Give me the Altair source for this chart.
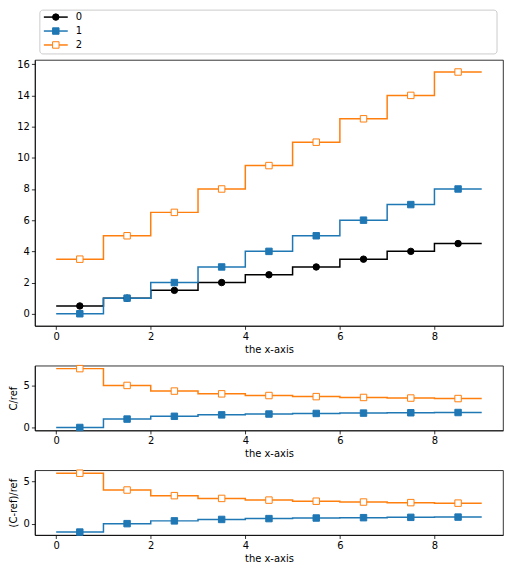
import altair as alt
import pandas as pd

# ---- data ----
names = ["0", "1", "2"]
edges = [0, 1, 2, 3, 4, 5, 6, 7, 8, 9]
centers = [0.5, 1.5, 2.5, 3.5, 4.5, 5.5, 6.5, 7.5, 8.5]

counts_0 = [0.5, 1.0, 1.5, 2.0, 2.5, 3.0, 3.5, 4.0, 4.5]
counts_1 = [0, 1, 2, 3, 4, 5, 6, 7, 8]
counts_2 = [3.5, 5.0, 6.5, 8.0, 9.5, 11.0, 12.5, 14.0, 15.5]

ratio_1 = [0.0, 1.0, 1.33, 1.5, 1.6, 1.67, 1.71, 1.75, 1.78]
ratio_2 = [7.0, 5.0, 4.33, 4.0, 3.8, 3.67, 3.57, 3.5, 3.44]

rel_1 = [-1.0, 0.0, 0.33, 0.5, 0.6, 0.67, 0.71, 0.75, 0.78]
rel_2 = [6.0, 4.0, 3.33, 3.0, 2.8, 2.67, 2.57, 2.5, 2.44]

x_ticks = [0, 2, 4, 6, 8]
top_y_ticks = [0, 2, 4, 6, 8, 10, 12, 14, 16]
small_y_ticks = [0, 5]

colors = ["#000000", "#1f77b4", "#ff7f0e"]
fills = ["#000000", "#1f77b4", "#ffffff"]
shapes = ["circle", "square", "square"]

FONT = "DejaVu Sans"
W = 470

stroke_scale = alt.Scale(domain=names, range=colors)
fill_scale = alt.Scale(domain=names, range=fills)
shape_scale = alt.Scale(domain=names, range=shapes)


def step_table(series):
    rows = []
    for name, vals in series:
        for e, v in zip(edges[:-1], vals):
            rows.append({"series": name, "x": e, "y": v})
        rows.append({"series": name, "x": edges[-1], "y": vals[-1]})
    return pd.DataFrame(rows)


def point_table(series):
    rows = []
    for name, vals in series:
        for c, v in zip(centers, vals):
            rows.append({"series": name, "x": c, "y": v})
    return pd.DataFrame(rows)


def panel(series, ydomain, yticks, ytitle, height):
    x = alt.X("x:Q", scale=alt.Scale(domain=[-0.45, 9.45], nice=False, zero=False),
              axis=alt.Axis(values=x_ticks, title="the x-axis", format="d"))
    if ytitle:
        yaxis = alt.Axis(values=yticks, title=ytitle, format="d", titleX=-16)
    else:
        yaxis = alt.Axis(values=yticks, title=None, format="d")
    y = alt.Y("y:Q", scale=alt.Scale(domain=ydomain, nice=False, zero=False), axis=yaxis)
    lines = alt.Chart(step_table(series)).mark_line(
        interpolate="step-after", strokeWidth=1.5
    ).encode(
        x=x, y=y,
        stroke=alt.Stroke("series:N", scale=stroke_scale, legend=None),
    )
    pts = alt.Chart(point_table(series)).mark_point(
        filled=True, size=42, strokeWidth=1, opacity=1
    ).encode(
        x=x, y=y,
        stroke=alt.Stroke("series:N", scale=stroke_scale, legend=None),
        fill=alt.Fill("series:N", scale=fill_scale, legend=None),
        shape=alt.Shape("series:N", scale=shape_scale, legend=None),
    )
    return alt.layer(lines, pts).properties(width=W, height=height)


TOP_H = 267
top_main = panel([("0", counts_0), ("1", counts_1), ("2", counts_2)],
                 [-0.775, 16.275], top_y_ticks, None, TOP_H)

# legend (drawn above the top panel)
leg = pd.DataFrame({"series": names})
ly = alt.Y("series:N", scale=alt.Scale(type="point", domain=names, range=[-43, -15], padding=0),
           axis=None)
box = alt.Chart(alt.Data(values=[{"k": 0}])).mark_rect(
    fill="white", stroke="#cccccc", strokeWidth=1, cornerRadius=3
).encode(x=alt.value(5), x2=alt.value(W - 6), y=alt.value(-50), y2=alt.value(-6))
lrule = alt.Chart(leg).mark_rule(strokeWidth=1.5).encode(
    x=alt.value(9), x2=alt.value(33), y=ly,
    stroke=alt.Stroke("series:N", scale=stroke_scale, legend=None),
)
lpts = alt.Chart(leg).mark_point(filled=True, size=42, strokeWidth=1, opacity=1).encode(
    x=alt.value(21), y=ly,
    stroke=alt.Stroke("series:N", scale=stroke_scale, legend=None),
    fill=alt.Fill("series:N", scale=fill_scale, legend=None),
    shape=alt.Shape("series:N", scale=shape_scale, legend=None),
)
ltext = alt.Chart(leg).mark_text(
    align="left", baseline="middle", fontSize=10, font=FONT, color="black"
).encode(x=alt.value(41), y=ly, text="series:N")
legend_layer = alt.layer(box, lrule, lpts, ltext)

top = alt.layer(top_main, legend_layer).resolve_scale(y="independent").properties(
    width=W, height=TOP_H)

mid = panel([("1", ratio_1), ("2", ratio_2)], [-0.35, 7.35], small_y_ticks, "C/ref", 65)
bot = panel([("1", rel_1), ("2", rel_2)], [-1.35, 6.35], small_y_ticks, "(C-ref)/ref", 65)

chart = alt.vconcat(top, mid, bot, spacing=40, bounds="flush").properties(
    padding={"left": 0, "top": 0, "right": 0, "bottom": 0}
).configure_axis(
    labelFont=FONT, labelFontSize=10, labelColor="black",
    titleFont=FONT, titleFontSize=10, titleFontWeight="normal", titleColor="black",
    tickColor="black", tickSize=3.5, tickWidth=0.8,
    domainColor="black", domainWidth=0.8, grid=False,
    labelPadding=2, titlePadding=3,
).configure_view(stroke="black", strokeWidth=0.8)

chart.save("out.html", embed_options={"renderer": "svg", "actions": False})
